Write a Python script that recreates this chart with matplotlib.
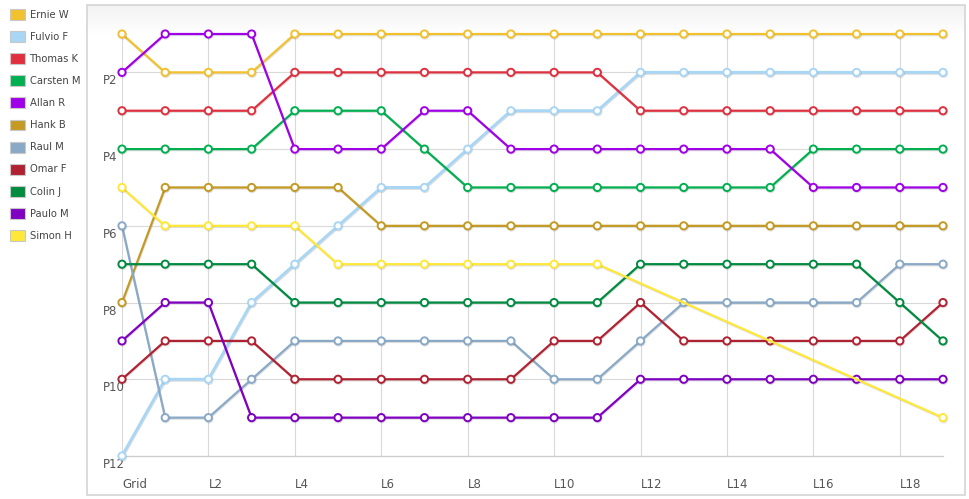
"""
Lap chart: race position of each driver per lap.
"""

import numpy as np
from matplotlib import pyplot as plt
from matplotlib import patheffects, transforms
from matplotlib.patches import Patch, Rectangle

# data
laps = ["Grid"] + ["L%d" % i for i in range(1, 20)]
drivers = ["Ernie W", "Fulvio F", "Thomas K", "Carsten M", "Allan R", "Hank B",
           "Raul M", "Omar F", "Colin J", "Paulo M", "Simon H"]
colors = ["#F2C12E", "#A9D6F5", "#E0303F", "#00B050", "#A000E8", "#C49A22",
          "#89A9C6", "#B02232", "#008B40", "#8000C2", "#FFE838"]

ernie = [1, 2, 2, 2, 1, 1, 1, 1, 1, 1, 1, 1, 1, 1, 1, 1, 1, 1, 1, 1]
fulvio = [12, 10, 10, 8, 7, 6, 5, 5, 4, 3, 3, 3, 2, 2, 2, 2, 2, 2, 2, 2]
thomas = [3, 3, 3, 3, 2, 2, 2, 2, 2, 2, 2, 2, 3, 3, 3, 3, 3, 3, 3, 3]
carsten = [4, 4, 4, 4, 3, 3, 3, 4, 5, 5, 5, 5, 5, 5, 5, 5, 4, 4, 4, 4]
allan = [2, 1, 1, 1, 4, 4, 4, 3, 3, 4, 4, 4, 4, 4, 4, 4, 5, 5, 5, 5]
hank = [8, 5, 5, 5, 5, 5, 6, 6, 6, 6, 6, 6, 6, 6, 6, 6, 6, 6, 6, 6]
raul = [6, 11, 11, 10, 9, 9, 9, 9, 9, 9, 10, 10, 9, 8, 8, 8, 8, 8, 7, 7]
omar = [10, 9, 9, 9, 10, 10, 10, 10, 10, 10, 9, 9, 8, 9, 9, 9, 9, 9, 9, 8]
colin = [7, 7, 7, 7, 8, 8, 8, 8, 8, 8, 8, 8, 7, 7, 7, 7, 7, 7, 8, 9]
paulo = [9, 8, 8, 11, 11, 11, 11, 11, 11, 11, 11, 11, 10, 10, 10, 10, 10, 10, 10, 10]
# no data for Simon between L12 and L18, line is joined across the gap
simon = [5, 6, 6, 6, 6, 7, 7, 7, 7, 7, 7, 7,
         None, None, None, None, None, None, None, 11]

series = [ernie, fulvio, thomas, carsten, allan, hank, raul, omar, colin, paulo, simon]

W, H = 970, 499
fig = plt.figure(figsize=(W / 100, H / 100), dpi=100)

# framed background box with a faint gradient at the top
bg = fig.add_axes([87 / W, 1 - 495 / H, 878 / W, 490 / H], zorder=0)
grad = np.ones((490, 1))
grad[:30, 0] = np.linspace(0.95, 1.0, 30)
bg.imshow(np.dstack([grad, grad, grad]), aspect="auto", extent=[0, 1, 0, 1])
bg.add_patch(Rectangle((0, 0), 1, 1, transform=bg.transAxes, fill=False,
                       edgecolor="#d4d4d4", linewidth=1.2, clip_on=False))
bg.set_axis_off()

ax = fig.add_axes([122 / W, 1 - 456 / H, 821 / W, 422 / H], zorder=1)
ax.patch.set_alpha(0)

x = np.arange(len(laps))
shadow = [patheffects.SimpleLineShadow(offset=(0.4, -0.8), alpha=0.12, shadow_color="k"),
          patheffects.Normal()]
for name, col, pos in zip(drivers, colors, series):
    xs = [xi for xi, p in zip(x, pos) if p is not None]
    ys = [p for p in pos if p is not None]
    lw = 2.1 if name == "Fulvio F" else 1.6
    ax.plot(xs, ys, color=col, lw=lw, marker="o", markersize=5.2,
            markerfacecolor="white", markeredgecolor=col, markeredgewidth=1.4,
            clip_on=False, path_effects=shadow, zorder=3)

ax.set_xlim(0, 19)
ax.set_ylim(12, 1)

ax.set_xticks(x[::2])
ax.set_xticklabels(laps[::2])
ax.set_yticks(range(2, 13, 2))
ax.set_yticklabels(["P%d" % p for p in range(2, 13, 2)])

ax.grid(True, color="#d9d9d9", linewidth=0.8)
ax.set_axisbelow(True)
for s in ["top", "right", "left"]:
    ax.spines[s].set_visible(False)
ax.spines["bottom"].set_color("#cccccc")
ax.spines["bottom"].set_linewidth(0.9)

ax.tick_params(axis="both", length=0, labelsize=8.5, labelcolor="#555555")
ax.tick_params(axis="x", pad=16)
ax.tick_params(axis="y", pad=13.7)
for lab in ax.get_xticklabels():
    lab.set_ha("left")
for lab in ax.get_yticklabels():
    lab.set_ha("left")
    lab.set_va("top")
    lab.set_transform(lab.get_transform() +
                      transforms.ScaledTranslation(0, -2 / 100, fig.dpi_scale_trans))

# legend on the left
handles = [Patch(facecolor=c, edgecolor="#c8c8c8", linewidth=0.8) for c in colors]
fig.legend(handles, drivers, loc="upper left", bbox_to_anchor=(8 / W, 1 - 7 / H),
           frameon=False, fontsize=7.2, handlelength=1.5, handleheight=1.3,
           labelspacing=1.12, handletextpad=0.45, borderaxespad=0, borderpad=0.2,
           labelcolor="#444444")

fig.savefig("out.png", dpi=100)
